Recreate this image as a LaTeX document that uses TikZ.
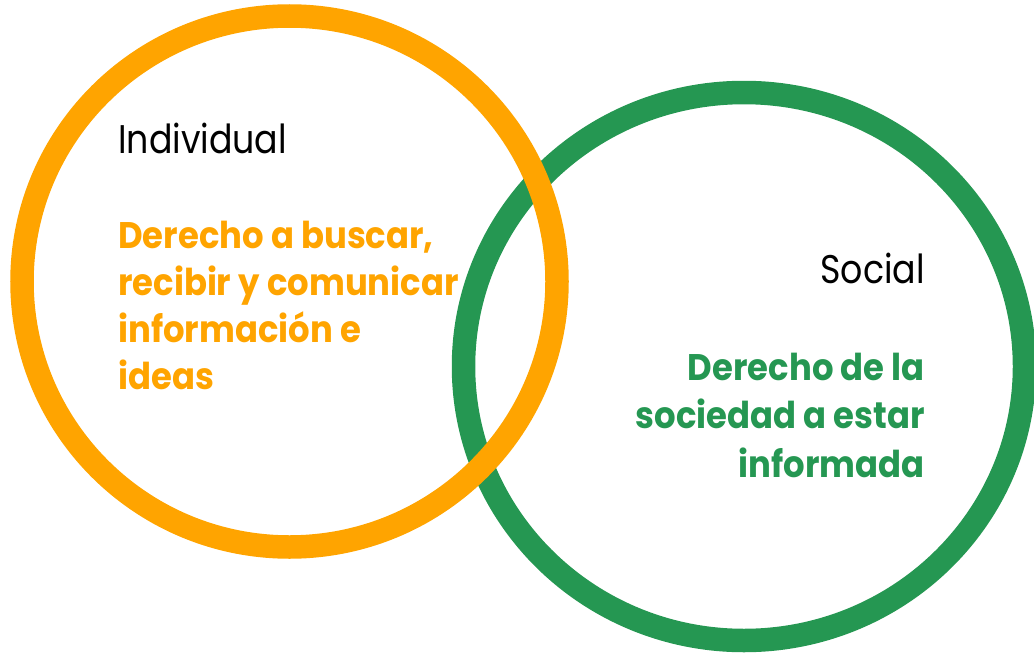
\documentclass[tikz,border=0pt]{standalone}
\usepackage{fontspec}
\setmainfont{Poppins}[FakeStretch=0.87]
\newfontfamily\bodyfont{Poppins}[FakeStretch=0.915]
\definecolor{ringorange}{RGB}{255,164,0}
\definecolor{ringgreen}{RGB}{37,151,82}
\begin{document}
\begin{tikzpicture}[x=1pt,y=-1pt,
  ring/.style={line width=23.5pt},
  heading/.style={inner sep=0pt,font=\fontsize{40}{48}\selectfont,text=black},
  bodyorange/.style={inner sep=0pt,font=\bodyfont\fontsize{37}{47}\selectfont\bfseries,text=ringorange},
  bodygreen/.style={inner sep=0pt,font=\bodyfont\fontsize{37}{47}\selectfont\bfseries,text=ringgreen}]
\useasboundingbox (0,0) rectangle (1034,653);
\draw[ring,ringgreen] (744,366.5) ellipse [x radius=280.5, y radius=274];
\draw[ring,ringorange] (289.5,281.5) ellipse [x radius=267.5, y radius=265.5];
\node[heading,anchor=base west] (ind) at (118,153) {Individual};
\node[bodyorange,anchor=base west] (o1) at (118,248) {Derecho a buscar,};
\node[bodyorange,anchor=base west] (o2) at (118,295) {recibir y comunicar};
\node[bodyorange,anchor=base west] (o3) at (118,342) {información e};
\node[bodyorange,anchor=base west] (o4) at (118,389) {ideas};
\node[heading,anchor=base east] (soc) at (925,283) {Social};
\node[bodygreen,anchor=base east] (g1) at (925,380) {Derecho de la};
\node[bodygreen,anchor=base east] (g2) at (925,428) {sociedad a estar};
\node[bodygreen,anchor=base east] (g3) at (925,477) {informada};
\end{tikzpicture}
\end{document}
